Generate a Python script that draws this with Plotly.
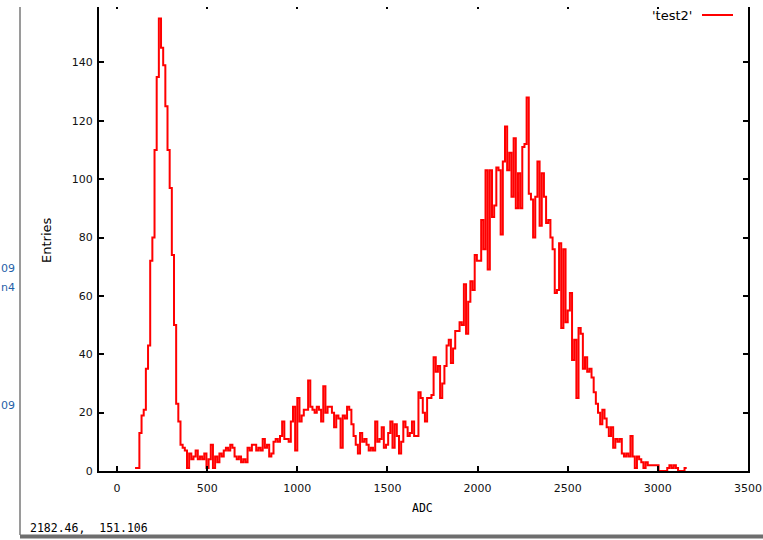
import plotly.graph_objects as go

# ---- data (histogram counts, bin width 12 ADC starting at ADC 100) ----
BIN_START = 100
BIN_WIDTH = 12

counts_peak1 = [1, 1, 13, 19, 21, 35, 43, 72, 80, 110,
                135, 155, 145, 139, 125, 110, 97, 74, 50, 23,
                17, 9, 8, 7, 1, 6, 4, 5, 7, 4]
counts_valley = [5, 4, 6, 1, 4, 9, 1, 5, 3, 6,
                 5, 7, 8, 7, 9, 8, 5, 4, 5, 3,
                 4, 3, 8, 7, 9, 9, 7, 8, 7, 11,
                 8, 9, 5, 6, 10, 11, 10, 12, 17, 11,
                 11, 10, 17, 22, 7, 25, 17, 19, 21, 21,
                 31, 22, 21, 20, 22, 21, 17, 29, 20, 22,
                 22, 20, 15, 19, 18, 8, 19, 18, 22, 21,
                 16, 12, 9, 6, 13, 10, 11, 9, 7, 8,
                 7, 17, 10, 11, 15, 8, 9, 13, 17, 8,
                 16, 12, 6, 10, 17, 15, 12, 13, 17, 12,
                 12, 27, 25, 20, 17, 25, 25, 26, 39, 34]
counts_peak2 = [36, 25, 30, 36, 43, 45, 37, 42, 48, 48,
                51, 50, 64, 47, 58, 65, 62, 74, 72, 72,
                86, 76, 103, 69, 103, 87, 91, 104, 103, 81,
                106, 118, 103, 109, 94, 114, 90, 102, 90, 111,
                112, 128, 95, 93, 80, 94, 106, 84, 102, 94,
                85, 86, 80, 76, 61, 62, 78, 49, 76, 51,
                55, 61, 38, 45, 25, 49, 47, 35, 39, 34,
                35, 32, 27, 23, 20, 16, 21, 18, 15, 12,
                15, 8, 11, 10, 11, 6, 5, 6, 5, 12,
                5, 1, 5, 4, 3, 1, 3, 2, 2, 2,
                2, 2, 0, 0, 0, 0, 1, 2, 1, 2,
                1, 0, 0, 0, 1]

x_ticks = [0, 500, 1000, 1500, 2000, 2500, 3000, 3500]
y_ticks = [0, 20, 40, 60, 80, 100, 120, 140, 160]
series_name = "'test2'"
x_title = "ADC"
y_title = "Entries"
mouse_text = "2182.46,\u00a0 151.106"

counts = counts_peak1 + counts_valley + counts_peak2
edges = [BIN_START + BIN_WIDTH * i for i in range(len(counts) + 1)]
ys = counts + [counts[-1]]

# ---- layout geometry ----
W, H = 763, 540
L, R, T, B = 99, 15, 4, 69
PW, PH = W - L - R, H - T - B


def px_x(px):
    return (px - L) / PW


def px_y(py):
    return (H - B - py) / PH


fig = go.Figure()
fig.add_trace(go.Scatter(
    x=edges, y=ys, mode="lines", name=series_name,
    line=dict(color="#ff0000", width=2, shape="hv"),
    showlegend=False, hoverinfo="skip"))

axis_common = dict(
    ticks="inside", ticklen=5, tickwidth=2, tickcolor="black",
    showline=True, linewidth=2, linecolor="black", mirror="ticks",
    showgrid=False, zeroline=False,
    tickfont=dict(family="DejaVu Sans", size=11, color="#111111"),
)

fig.update_layout(
    width=W, height=H,
    margin=dict(l=L, r=R, t=T, b=B, pad=0, autoexpand=False),
    paper_bgcolor="white", plot_bgcolor="white",
    xaxis=dict(range=[-100, 3500], tickvals=x_ticks,
               ticktext=[str(v) for v in x_ticks],
               ticklabelstandoff=6, **axis_common),
    yaxis=dict(range=[0, 160], tickvals=y_ticks,
               ticktext=[str(v) for v in y_ticks],
               ticklabelstandoff=2, **axis_common),
)

annotations = [
    dict(text=y_title, x=px_x(46), y=px_y(240), textangle=-90,
         font=dict(family="DejaVu Sans", size=13, color="black")),
    dict(text=x_title, x=px_x(422), y=px_y(508),
         font=dict(family="DejaVu Sans Mono", size=11.5, color="black")),
    dict(text=mouse_text, x=px_x(28), y=px_y(528), xanchor="left",
         font=dict(family="DejaVu Sans Mono", size=11.5, color="black")),
    dict(text=series_name, x=px_x(694), y=px_y(16), xanchor="right",
         font=dict(family="DejaVu Sans", size=13, color="black")),
    dict(text="09", x=px_x(17), y=px_y(268), xanchor="right",
         font=dict(family="DejaVu Sans", size=11, color="#1f5fa8")),
    dict(text="n4", x=px_x(17), y=px_y(287), xanchor="right",
         font=dict(family="DejaVu Sans", size=11, color="#1f5fa8")),
    dict(text="09", x=px_x(17), y=px_y(405), xanchor="right",
         font=dict(family="DejaVu Sans", size=11, color="#1f5fa8")),
]
for a in annotations:
    a.update(xref="paper", yref="paper", showarrow=False)
    a.setdefault("xanchor", "center")
    a.setdefault("yanchor", "middle")
fig.update_layout(annotations=annotations)

shapes = [
    # white strip hiding the top border (window cut-off)
    dict(type="rect", x0=px_x(-5), x1=px_x(W + 5), y0=px_y(-5), y1=px_y(7),
         fillcolor="white", line=dict(width=0), layer="above"),
    # legend key line
    dict(type="line", x0=px_x(702), x1=px_x(733), y0=px_y(15), y1=px_y(15),
         line=dict(color="#ff0000", width=2), layer="above"),
    # window frame (left and bottom)
    dict(type="line", x0=px_x(20), x1=px_x(20), y0=px_y(7), y1=px_y(535),
         line=dict(color="#9a9a9a", width=2), layer="above"),
    dict(type="line", x0=px_x(20), x1=px_x(W + 2), y0=px_y(536.5), y1=px_y(536.5),
         line=dict(color="#6e6e6e", width=4), layer="above"),
]
for s in shapes:
    s.update(xref="paper", yref="paper")
fig.update_layout(shapes=shapes)

fig.write_html("out.html")
